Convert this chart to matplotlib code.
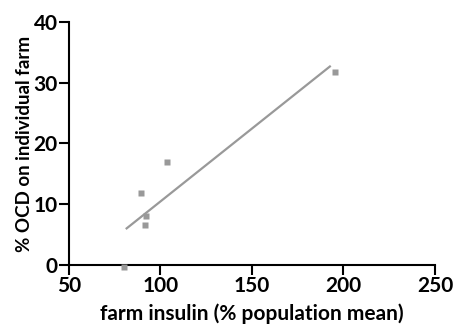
import matplotlib
matplotlib.use("Agg")
import matplotlib.pyplot as plt

# data
insulin = [80, 89.6, 92.2, 91.6, 103.8, 195.5]
ocd = [-0.3, 11.9, 8.0, 6.6, 17.0, 31.8]

# fitted line end points
fit_x = [81.1, 193.1]
fit_y = [5.9, 32.8]

xticks = [50, 100, 150, 200, 250]
yticks = [0, 10, 20, 30, 40]

plt.rcParams["font.family"] = ["Lato", "DejaVu Sans"]

fig = plt.figure(figsize=(4.53, 3.25), dpi=100)
ax = fig.add_axes([0.152, 0.185, 0.808, 0.747])

ax.plot(fit_x, fit_y, color="#999999", lw=1.6, solid_capstyle="butt", zorder=2)
ax.plot(insulin, ocd, "s", color="#999999", ms=4.5, mec="none", clip_on=False, zorder=3)

ax.set_xlim(50, 250)
ax.set_ylim(0, 40)
ax.set_xticks(xticks)
ax.set_yticks(yticks)

for s in ["top", "right"]:
    ax.spines[s].set_visible(False)
for s in ["left", "bottom"]:
    ax.spines[s].set_linewidth(1.5)

ax.tick_params(direction="out", length=7, width=1.5, labelsize=15, pad=1)
for lab in ax.get_xticklabels() + ax.get_yticklabels():
    lab.set_fontweight("bold")

ax.set_xlabel("farm insulin (% population mean)", fontsize=15, fontweight="bold", labelpad=5)
ax.set_ylabel("% OCD on individual farm", fontsize=13.5, fontweight="bold", labelpad=0)

fig.savefig("out.png", dpi=100)
